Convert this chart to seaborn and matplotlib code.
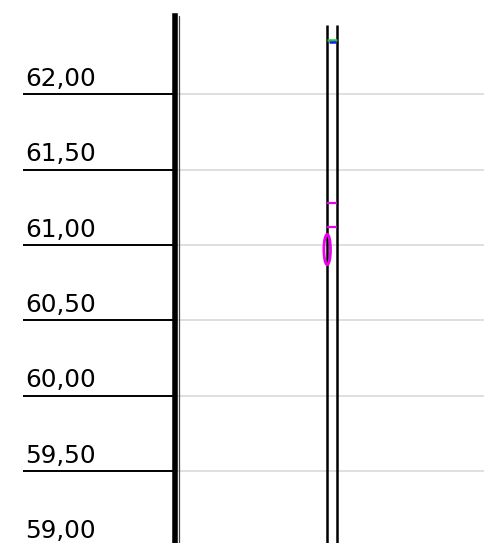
import seaborn as sns
import matplotlib
matplotlib.use("Agg")
from matplotlib import pyplot as plt
from matplotlib import transforms
from matplotlib.patches import Ellipse

sns.set_theme(style="white")
plt.rcParams["font.family"] = ["DejaVu Sans"]

# values
tick_values = [59.0, 59.5, 60.0, 60.5, 61.0, 61.5, 62.0]
tick_labels = ["59,00", "59,50", "60,00", "60,50", "61,00", "61,50", "62,00"]
rail_top = 62.46
median_value = 62.36
mean_value = 62.345
mark_values = [61.28, 61.12]
outlier_value = 60.97
outlier_spread = 0.20

fig = plt.figure(figsize=(4.84, 5.43), dpi=100)
ax = fig.add_axes([174.5 / 484, 0, 1 - 174.5 / 484, 527 / 543])

ax.set_ylim(59.026, 62.517)
ax.set_xlim(-1, 0.965)
half = 0.0317

# only ticks inside the visible range get a line
visible = [v for v in tick_values if v > 59.026]

# grid
for v in visible:
    ax.axhline(v, color="#d6d6d6", lw=1.1, zorder=0)

# box rails
ax.vlines([-half, half], 58.0, rail_top, color="black", lw=1.8, zorder=2)
ax.hlines(median_value, -half, half, color="#22cc22", lw=1.8, zorder=3)
ax.hlines(mean_value, -half * 0.6, half * 0.7, color="#1a1aff", lw=1.8, zorder=3)
ax.hlines(mark_values, -half, half, color="#ee00ee", lw=1.6, zorder=3)
ax.add_patch(Ellipse((-0.0305, outlier_value), 0.042, outlier_spread,
                     facecolor="none", edgecolor="#ee00ee", lw=2.0, zorder=4))

# left axis: thick spine + thin line beside it
for s in ["top", "right", "bottom"]:
    ax.spines[s].set_visible(False)
ax.spines["left"].set_linewidth(4.0)
ax.spines["left"].set_color("black")
ax.axvline(-0.971, ymax=1.0, color="#444444", lw=0.9)

ax.set_xticks([])
ax.set_yticks(visible)
ax.set_yticklabels([])
ax.tick_params(axis="y", direction="out", length=109.4, width=1.4,
               color="black", left=True)

trans = transforms.blended_transform_factory(fig.transFigure, ax.transData)
for v, lab in zip(tick_values, tick_labels):
    ax.annotate(lab, xy=(25 / 484, v), xycoords=trans,
                xytext=(0, 8.5), textcoords="offset pixels",
                ha="left", va="baseline", fontsize=17.8, color="black",
                annotation_clip=False)

fig.savefig("out.png", dpi=100)
